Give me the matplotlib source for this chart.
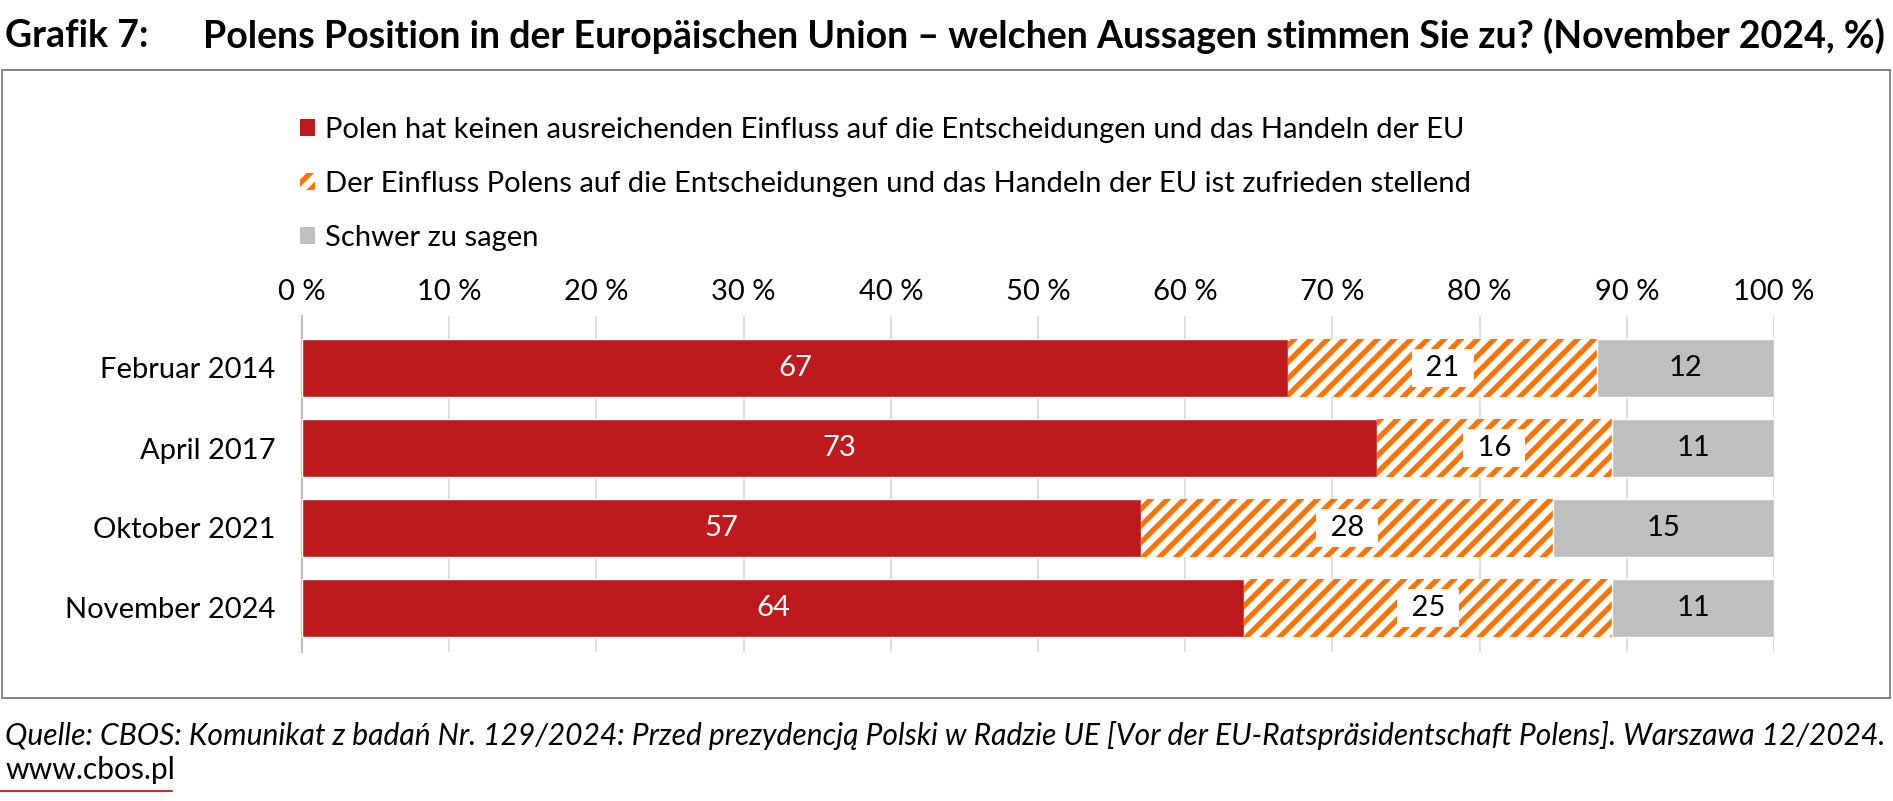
import matplotlib
matplotlib.use('Agg')
import matplotlib.pyplot as plt
from matplotlib.patches import Patch, Rectangle
from matplotlib.lines import Line2D

categories = ['Februar 2014', 'April 2017', 'Oktober 2021', 'November 2024']
kein_einfluss = [67, 73, 57, 64]
zufrieden = [21, 16, 28, 25]
schwer = [12, 11, 15, 11]
series_labels = ['Polen hat keinen ausreichenden Einfluss auf die Entscheidungen und das Handeln der EU',
                 'Der Einfluss Polens auf die Entscheidungen und das Handeln der EU ist zufrieden stellend',
                 'Schwer zu sagen']
x_ticks = [0, 10, 20, 30, 40, 50, 60, 70, 80, 90, 100]

RED = '#BE1A1D'
ORANGE = '#FF7300'
GRAY = '#BFBFBF'
FS = 21

plt.rcParams['font.family'] = ['Lato', 'DejaVu Sans']
plt.rcParams['hatch.linewidth'] = 3.8

W, H = 1893, 801
fig = plt.figure(figsize=(W / 100, H / 100), dpi=100)

def fx(px): return px / W
def fy(py): return 1 - py / H

# title
fig.text(fx(5), fy(36), 'Grafik 7:', fontsize=27, fontweight='bold', va='center', ha='left')
fig.text(fx(203), fy(36), 'Polens Position in der Europäischen Union – welchen Aussagen stimmen Sie zu? (November 2024, %)',
         fontsize=27, fontweight='bold', va='center', ha='left')

# frame
fig.patches.append(Rectangle((fx(2), fy(698)), fx(1888), (698 - 70) / H, transform=fig.transFigure,
                             fill=False, edgecolor='#6E6E6E', linewidth=1.2))

ax = fig.add_axes([fx(302), fy(652), fx(1774 - 302), (652 - 316) / H])
y = list(range(len(categories)))
h = 0.725
ax.barh(y, kein_einfluss, height=h, color=RED, edgecolor='white', linewidth=1, zorder=3)
left2 = [a for a in kein_einfluss]
ax.barh(y, zufrieden, left=left2, height=h, color='white', edgecolor=ORANGE, hatch='//',
        linewidth=0, zorder=3)
left3 = [a + b for a, b in zip(kein_einfluss, zufrieden)]
ax.barh(y, schwer, left=left3, height=h, color=GRAY, edgecolor='white', linewidth=1, zorder=3)

for i in y:
    ax.text(kein_einfluss[i] / 2, i, str(kein_einfluss[i]), ha='center', va='center',
            color='white', fontsize=FS, zorder=5)
    ax.text(left2[i] + zufrieden[i] / 2, i, f' {zufrieden[i]} ', ha='center', va='center',
            color='black', fontsize=FS, zorder=5,
            bbox=dict(boxstyle='square,pad=0.22', facecolor='white', edgecolor='none'))
    ax.text(left3[i] + schwer[i] / 2, i, str(schwer[i]), ha='center', va='center',
            color='black', fontsize=FS, zorder=5)

ax.set_xlim(0, 100)
ax.set_ylim(3.55, -0.65)
ax.set_xticks(x_ticks)
ax.set_xticklabels([f'{t} %' for t in x_ticks], fontsize=FS)
ax.xaxis.tick_top()
ax.tick_params(axis='x', length=0, pad=8)
ax.set_yticks(y)
ax.set_yticklabels(categories, fontsize=FS)
ax.tick_params(axis='y', length=0, pad=19)
ax.grid(True, axis='x', color='#D9D9D9', linewidth=1.2, zorder=0)
for s in ['top', 'right', 'bottom']:
    ax.spines[s].set_visible(False)
ax.spines['left'].set_color('#BFBFBF')
ax.spines['left'].set_linewidth(1.5)

handles = [Patch(facecolor=RED, edgecolor=RED, linewidth=0),
           Patch(facecolor='white', edgecolor=ORANGE, hatch='//', linewidth=0),
           Patch(facecolor=GRAY, edgecolor=GRAY, linewidth=0)]
fig.legend(handles, series_labels, loc='upper left', bbox_to_anchor=(fx(300), fy(117)),
           frameon=False, fontsize=FS, handlelength=0.52, handleheight=0.52,
           handletextpad=0.35, labelspacing=0.96, borderpad=0, borderaxespad=0)

# source
fig.text(fx(5), fy(736), 'Quelle: CBOS: Komunikat z badań Nr. 129/2024: Przed prezydencją Polski w Radzie UE '
         '[Vor der EU-Ratspräsidentschaft Polens]. Warszawa 12/2024.',
         fontsize=21.6, style='italic', va='center', ha='left')
fig.text(fx(5), fy(770), 'www.cbos.pl', fontsize=21.6, va='center', ha='left')
fig.lines.append(Line2D([fx(0), fx(172)], [fy(791), fy(791)], transform=fig.transFigure,
                        color='#D00000', linewidth=1.2))

fig.savefig('out.png', dpi=100)
